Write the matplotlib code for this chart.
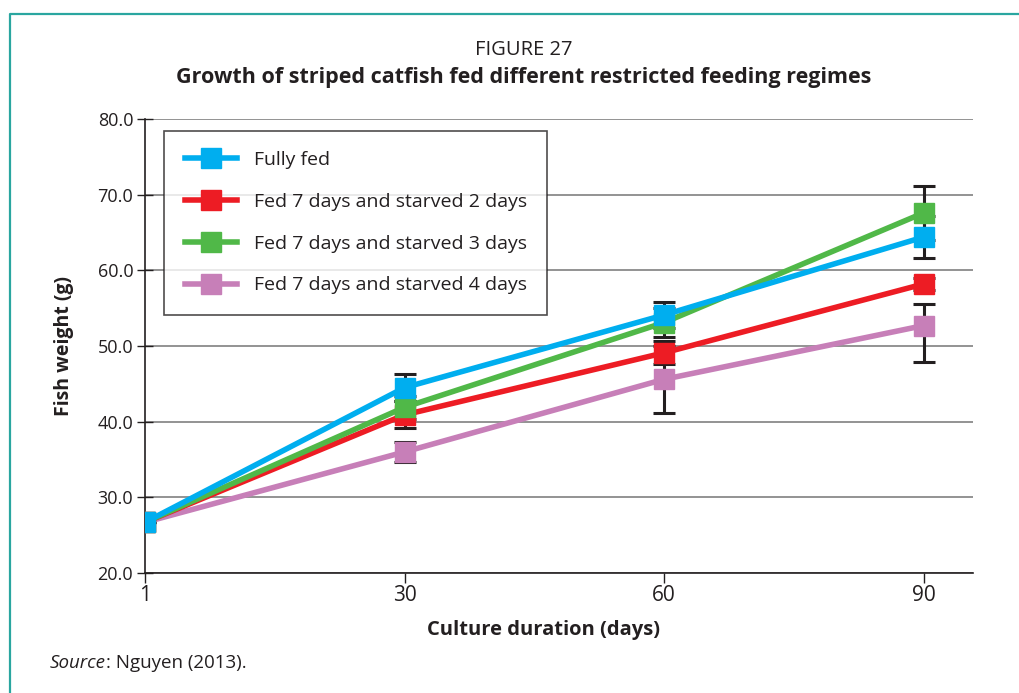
import numpy as np
import matplotlib
matplotlib.use('Agg')
import matplotlib.pyplot as plt
from matplotlib.lines import Line2D

plt.rcParams['font.family'] = ['Open Sans', 'DejaVu Sans']

# ---- data
days = ['1', '30', '60', '90']
fully_fed = [26.7, 44.5, 54.1, 64.4]
fed7_starved2 = [26.7, 40.9, 49.1, 58.2]
fed7_starved3 = [26.7, 41.9, 53.1, 67.6]
fed7_starved4 = [26.7, 36.0, 45.6, 52.7]
# error bars (lower, upper)
err_fully = ([0, 1.8, 1.7, 2.8], [0, 1.8, 1.7, 2.8])
err_s2 = ([0, 1.8, 1.5, 0.8], [0, 1.8, 1.5, 0.8])
err_s3 = ([0, 1.5, 1.9, 3.6], [0, 1.5, 1.9, 3.6])
err_s4 = ([0, 1.3, 4.4, 4.8], [0, 1.3, 4.4, 2.9])

series = [
    ('Fully fed', fully_fed, err_fully, '#00aeef', 8),
    ('Fed 7 days and starved 2 days', fed7_starved2, err_s2, '#ed1c24', 6),
    ('Fed 7 days and starved 3 days', fed7_starved3, err_s3, '#50b848', 7),
    ('Fed 7 days and starved 4 days', fed7_starved4, err_s4, '#c77fb8', 5),
]

dark = '#231f20'
fig = plt.figure(figsize=(10.2, 6.93), dpi=100)
ax = fig.add_axes([0.1422, 0.1732, 0.8118, 0.6551])

x = np.arange(len(days))
handles = []
for name, vals, err, col, z in series:
    ax.errorbar(x, vals, yerr=np.array(err), fmt='none', ecolor=dark, elinewidth=2.2,
                capsize=8, capthick=2.2, zorder=3)
    h, = ax.plot(x, vals, color=col, lw=4, marker='s', markersize=14.5,
                 label=name, zorder=z)
    handles.append(h)

ax.set_xlim(0, 3.19)
ax.set_ylim(20, 80)
ax.set_xticks(x)
ax.set_xticklabels(days, fontsize=15)
ax.set_yticks(np.arange(20, 81, 10))
ax.set_yticklabels(['%.1f' % v for v in np.arange(20, 81, 10)], fontsize=13)
ax.tick_params(axis='y', direction='inout', length=11, width=1, color=dark, pad=3,
               labelcolor=dark)
ax.tick_params(axis='x', direction='out', length=7, width=1, color=dark, pad=2,
               labelcolor=dark)
ax.yaxis.grid(True, color='#8a8a8a', lw=1.3)
ax.set_axisbelow(True)
for s in ['top', 'right']:
    ax.spines[s].set_visible(False)
for s in ['left', 'bottom']:
    ax.spines[s].set_color(dark)
    ax.spines[s].set_linewidth(1.2)

ax.set_ylabel('Fish weight (g)', fontsize=14, fontweight='bold', color=dark)
ax.set_xlabel('Culture duration (days)', fontsize=14.5, fontweight='bold', color=dark)
ax.yaxis.set_label_coords((64 - 145) / 828, (573 - 346) / 454)
ax.xaxis.set_label_coords((543 - 145) / 828, -(630 - 573) / 454)
ax.xaxis.label.set_va('center')
ax.yaxis.label.set_va('center')

leg = ax.legend(handles=handles, loc='upper left', bbox_to_anchor=(0.023, 0.974),
                borderaxespad=0, fontsize=14, frameon=True, fancybox=False,
                handlelength=2.7, handletextpad=0.85, labelspacing=1.22,
                borderpad=1.05, markerscale=1.0)
leg.get_frame().set_edgecolor(dark)
leg.get_frame().set_linewidth(1.2)
for t in leg.get_texts():
    t.set_color(dark)

fig.text(0.513, 1 - 50 / 693, 'FIGURE 27', ha='center', va='center', fontsize=14.5, color=dark)
fig.text(0.513, 1 - 78 / 693, 'Growth of striped catfish fed different restricted feeding regimes',
         ha='center', va='center', fontsize=15.5, fontweight='bold', color=dark)

t1 = fig.text(50 / 1020, 1 - 663 / 693, 'Source', ha='left', va='center', fontsize=13.5,
              style='italic', color=dark)
src = plt.Annotation(': Nguyen (2013).', xy=(1, 0.5), xycoords=t1,
                     va='center', ha='left', fontsize=13.5, color=dark)
fig.add_artist(src)

# teal frame
fig.add_artist(Line2D([10 / 1020, 10 / 1020, 1.0], [0.0, 1 - 14 / 693, 1 - 14 / 693],
                      transform=fig.transFigure, color='#2aa6a0', lw=1.6))

fig.savefig('out.png', dpi=100)
